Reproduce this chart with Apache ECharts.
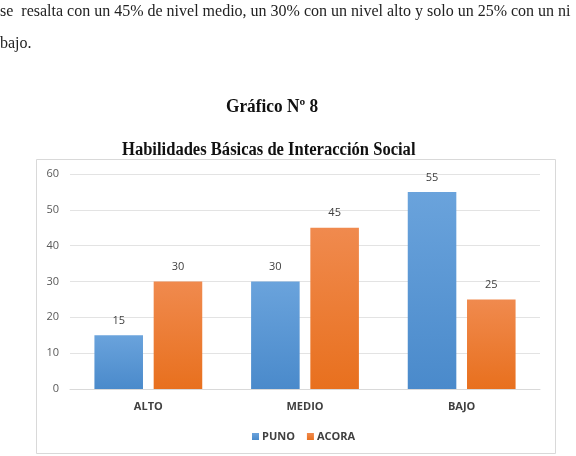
<!DOCTYPE html>
<html>
<head>
<meta charset="utf-8">
<script src="https://cdn.jsdelivr.net/npm/echarts@6/dist/echarts.min.js"></script>
<style>
  html, body { margin: 0; padding: 0; background: #fff; }
  #main { width: 576px; height: 456px; }
</style>
</head>
<body>
<div id="main"></div>
<script>
var categories = ['ALTO', 'MEDIO', 'BAJO'];
var puno = [15, 30, 55];
var acora = [30, 45, 25];
var yTicks = [0, 10, 20, 30, 40, 50, 60];

var chart = echarts.init(document.getElementById('main'));

function grad(top, bottom) {
    return new echarts.graphic.LinearGradient(0, 0, 0, 1, [
        { offset: 0, color: top },
        { offset: 1, color: bottom }
    ]);
}

var serif = '"Liberation Serif", "DejaVu Serif", serif';
var sans = '"Open Sans", "Liberation Sans", sans-serif';

var option = {
    backgroundColor: '#fff',
    animation: false,
    color: ['#5b9bd5', '#ed7d31'],
    graphic: [
        {
            type: 'text', x: 0, y: 4,
            style: { text: 'se  resalta con un 45% de nivel medio, un 30% con un nivel alto y solo un 25% con un ni',
                     font: '16px ' + serif, fill: '#222' }
        },
        {
            type: 'text', x: 0, y: 36,
            style: { text: 'bajo.', font: '16px ' + serif, fill: '#222' }
        },
        {
            type: 'text', x: 226, y: 98, scaleX: 0.96,
            style: { text: 'Gráfico Nº 8', font: 'bold 18px ' + serif, fill: '#111' }
        },
        {
            type: 'text', x: 122, y: 141, scaleX: 0.92,
            style: { text: 'Habilidades Básicas de Interacción Social', font: 'bold 18px ' + serif, fill: '#111' }
        },
        {
            type: 'rect', shape: { x: 36.5, y: 159.5, width: 519, height: 294 },
            style: { fill: 'none', stroke: '#d9d9d9', lineWidth: 1 }
        }
    ],
    grid: { left: 70, right: 36, top: 174, bottom: 67 },
    legend: {
        data: ['PUNO', 'ACORA'],
        left: 247, top: 426,
        itemWidth: 7, itemHeight: 7, itemGap: 12,
        icon: 'rect',
        textStyle: { fontFamily: sans, fontWeight: 'bold', fontSize: 11, color: '#404040', padding: [0, 0, 0, -2] }
    },
    xAxis: {
        type: 'category',
        data: categories,
        axisLine: { lineStyle: { color: '#d9d9d9' } },
        axisTick: { show: false },
        axisLabel: { fontFamily: sans, fontWeight: 'bold', fontSize: 11, color: '#404040', margin: 12 }
    },
    yAxis: {
        type: 'value',
        min: yTicks[0], max: yTicks[yTicks.length - 1], interval: 10,
        axisLine: { show: false },
        axisTick: { show: false },
        splitLine: { lineStyle: { color: '#e3e3e3' } },
        axisLabel: { fontFamily: sans, fontSize: 11, color: '#595959', margin: 11 }
    },
    series: [
        {
            name: 'PUNO', type: 'bar', data: puno,
            barWidth: '31%', barGap: '22%',
            itemStyle: { color: grad('#6aa3dc', '#4a8acb') },
            label: { show: true, position: 'top', distance: 9, fontFamily: sans, fontSize: 11, color: '#404040' }
        },
        {
            name: 'ACORA', type: 'bar', data: acora,
            barWidth: '31%',
            itemStyle: { color: grad('#f08a4e', '#e8701e') },
            label: { show: true, position: 'top', distance: 9, fontFamily: sans, fontSize: 11, color: '#404040' }
        }
    ]
};
chart.setOption(option);
</script>
</body>
</html>
